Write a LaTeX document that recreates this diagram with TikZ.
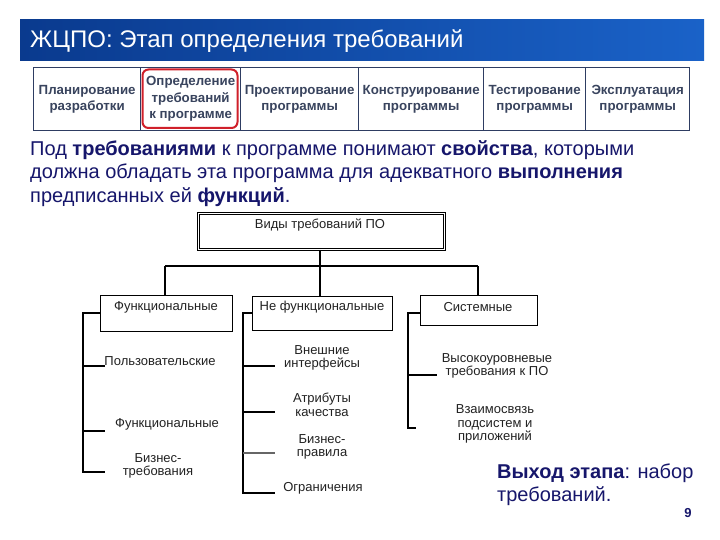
\documentclass[tikz,border=0pt]{standalone}
\usepackage{fontspec}
\setmainfont{Liberation Sans}
\definecolor{navy}{HTML}{16166B}
\definecolor{barL}{HTML}{0A3A8E}
\definecolor{barR}{HTML}{1A62C8}
\definecolor{phasetxt}{HTML}{39445E}
\definecolor{phaseln}{HTML}{2E3D62}
\definecolor{redbox}{HTML}{D0202A}
\definecolor{treetxt}{HTML}{222222}
\tikzset{
  phase/.style={draw=phaseln, line width=1.3pt, anchor=north west, minimum height=63pt,
    inner sep=0pt, align=center, text=phasetxt, font=\bfseries\fontsize{13.3}{16.5}\selectfont},
  box/.style={draw=black, line width=1.4pt, inner sep=0pt},
  rootbox/.style={draw=black, line width=0.8pt, double=white, double distance=1pt, inner sep=0pt},
  boxtxt/.style={text=treetxt, font=\fontsize{13}{14}\selectfont, inner sep=0pt},
  leaf/.style={text=treetxt, font=\fontsize{13}{13.5}\selectfont, align=center, inner sep=0pt},
  tree/.style={draw=black, line width=1.2pt}
}
\begin{document}
\begin{tikzpicture}[x=1pt,y=-1pt]
\useasboundingbox (0,0) rectangle (720,540);
\fill[white] (0,0) rectangle (720,540);
% title bar
\shade[left color=barL, right color=barR] (20,20) rectangle (704,61);
\node[anchor=west, text=white, font=\fontsize{24}{28}\selectfont, inner sep=0pt] (title) at (30,41) {ЖЦПО: Этап определения требований};
% phase strip
\node[phase, minimum width=107pt] (p1) at (33,67) {Планирование\\разработки};
\node[phase, minimum width=100pt] (p2) at (140,67) {Определение\\требований\\к программе};
\node[phase, minimum width=118pt] (p3) at (240,67) {Проектирование\\программы};
\node[phase, minimum width=125pt] (p4) at (358,67) {Конструирование\\программы};
\node[phase, minimum width=102pt] (p5) at (483,67) {Тестирование\\программы};
\node[phase, minimum width=104pt] (p6) at (585,67) {Эксплуатация\\программы};
\draw[draw=redbox, line width=2pt, rounded corners=6pt] (142.5,69.5) rectangle (237.5,128);
% paragraph
\node[anchor=north west, align=left, text=navy, inner sep=0pt,
  font=\fontsize{20}{23.5}\selectfont] (para) at (30,140)
  {Под \textbf{требованиями} к программе понимают \textbf{свойства}, которыми\\
   должна обладать эта программа для адекватного \textbf{выполнения}\\
   предписанных ей \textbf{функций}.};
% tree
\node[rootbox, minimum width=246pt, minimum height=36pt] (root) at (321.5,231.5) {};
\node[boxtxt] (roott) at (320,225) {Виды требований ПО};
\node[box, anchor=north west, minimum width=132pt, minimum height=36pt] (fb) at (100,295) {};
\node[boxtxt] (fbt) at (166,307) {Функциональные};
\node[box, anchor=north west, minimum width=140pt, minimum height=34pt] (nb) at (252,296) {};
\node[boxtxt] (nbt) at (322,307) {Не функциональные};
\node[box, anchor=north west, minimum width=117pt, minimum height=30pt] (sb) at (420,295) {};
\node[boxtxt] (sbt) at (478,307) {Системные};
\coordinate (busL) at (165,266);
\coordinate (busM) at (320,266);
\coordinate (busR) at (478,266);
\draw[tree] (root.south -| busM) -- (busM);
\draw[tree] (busL) -- (busR);
\draw[tree] (busL) -- (busL |- fb.north);
\draw[tree] (busM) -- (busM |- nb.north);
\draw[tree] (busR) -- (busR |- sb.north);
% leaves
\node[leaf] (f1) at (160,361) {Пользовательские};
\node[leaf] (f2) at (167,424) {Функциональные};
\node[leaf] (f3) at (158,466) {Бизнес-\\требования};
\node[leaf] (n1) at (322,358) {Внешние\\интерфейсы};
\node[leaf] (n2) at (322,405) {Атрибуты\\качества};
\node[leaf] (n3) at (322,447) {Бизнес-\\правила};
\node[leaf] (n4) at (323,488) {Ограничения};
\node[leaf] (s1) at (497,366) {Высокоуровневые\\требования к ПО};
\node[leaf] (s2) at (495,424) {Взаимосвязь\\подсистем и\\приложений};
% brackets F
\coordinate (fa) at (83,313);
\coordinate (fz) at (83,472);
\draw[tree] (fb.west |- fa) -- (fa) -- (fz) -- (105,472);
\draw[tree] (83,366) -- (105,366);
\draw[tree] (83,431) -- (105,431);
% brackets NF
\coordinate (na) at (243,313);
\coordinate (nz) at (243,493);
\draw[tree] (nb.west |- na) -- (na) -- (nz) -- (275,493);
\draw[tree] (243,366) -- (275,366);
\draw[tree] (243,412) -- (275,412);
\draw[tree, draw=black!60] (243,453) -- (275,453);
% brackets S
\coordinate (sa) at (408,313);
\coordinate (sz) at (408,428);
\draw[tree] (sb.west |- sa) -- (sa) -- (sz) -- (416,428);
\draw[tree] (408,375) -- (437,375);
% bottom right
\node[anchor=north west, align=left, text=navy, inner sep=0pt,
  font=\fontsize{20}{23}\selectfont] (out) at (497,464)
  {\textbf{Выход этапа}: набор\\требований.};
\node[text=navy, font=\bfseries\fontsize{13}{15}\selectfont, inner sep=0pt] (pg) at (688,513) {9};
\end{tikzpicture}
\end{document}
